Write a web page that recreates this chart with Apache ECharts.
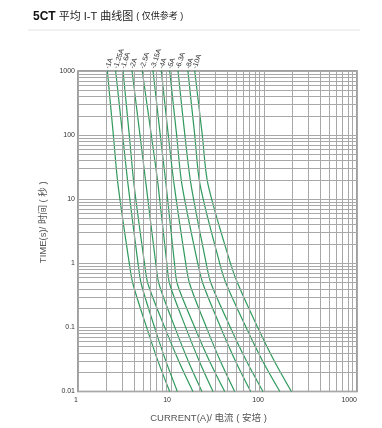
<!DOCTYPE html>
<html><head><meta charset="utf-8">
<script src="https://cdn.jsdelivr.net/npm/echarts@6/dist/echarts.min.js"></script>
<style>html,body{margin:0;padding:0;background:#fff}#c{width:382px;height:428px}</style>
</head><body><div id="c"></div>
<script>
// Fuse ratings (curve labels)
const ratings = ['1A','1.25A','1.6A','2A','2.5A','3.15A','4A','5A','6.3A','8A','10A'];
// Time points (s) at which the curves were read
const times = [1000, 100, 17, 1, 0.475, 0.1, 0.03, 0.01];
// Current (A) of each curve at the above times
const cur1A    = [2.07, 2.40, 2.69, 3.56, 3.90, 5.47, 7.23, 9.68];
const cur1_25A = [2.54, 3.02, 3.45, 4.42, 4.79, 6.66, 8.79, 11.7];
const cur1_6A  = [3.05, 3.56, 4.00, 5.19, 5.66, 8.56, 12.1, 17.2];
const cur2A    = [3.81, 4.64, 5.39, 6.86, 7.43, 11.0, 15.3, 21.5];
const cur2_5A  = [4.91, 6.14, 7.25, 9.01, 9.68, 14.4, 20.1, 28.3];
const cur3_15A = [6.41, 7.67, 8.84, 10.9, 11.7, 18.0, 25.9, 37.8];
const cur4A    = [7.87, 9.35, 10.8, 14.4, 15.9, 24.0, 33.9, 48.4];
const cur5A    = [9.68, 11.5, 13.1, 19.4, 22.1, 34.2, 49.3, 71.9];
const cur6_3A  = [11.9, 14.1, 16.4, 23.9, 27.1, 43.5, 64.8, 97.5];
const cur8A    = [15.2, 18.0, 20.5, 33.4, 39.3, 64.2, 96.6, 148];
const cur10A   = [18.0, 21.7, 25.0, 43.6, 52.5, 85.6, 129, 197];
const curves = [cur1A, cur1_25A, cur1_6A, cur2A, cur2_5A, cur3_15A, cur4A, cur5A, cur6_3A, cur8A, cur10A];
// Axis tick labels
const xTicks = [1, 10, 100, 1000];
const yTicks = [0.01, 0.1, 1, 10, 100, 1000];

const FONT = "'Liberation Sans','Noto Sans CJK SC',sans-serif";
const GRID_COLOR = '#a8a8a8';
const GREEN = '#2f9a5c';

// minor log grid values (2..9 in each decade)
const xMinor = [], yMinor = [];
for (let d = 1; d < 1000; d *= 10) for (let k = 2; k <= 9; k++) xMinor.push(+(k * d).toPrecision(3));
for (let d = 0.01; d < 1000; d *= 10) for (let k = 2; k <= 9; k++) yMinor.push(+(k * d).toPrecision(3));

const series = [{
  type: 'line', data: [], silent: true, z: 1,
  markLine: {
    silent: true, symbol: 'none', animation: false,
    label: {show: false},
    lineStyle: {color: GRID_COLOR, width: 1, type: 'solid'},
    emphasis: {disabled: true},
    data: xMinor.map(v => ({xAxis: v})).concat(yMinor.map(v => ({yAxis: v})))
  }
}];
curves.forEach((c, i) => {
  series.push({
    type: 'line', z: 3, smooth: 0.3, symbol: 'circle', symbolSize: 1,
    showSymbol: true, silent: true, animation: false, clip: false,
    lineStyle: {color: GREEN, width: 1.2},
    itemStyle: {color: GREEN},
    data: times.map((t, j) => {
      if (j !== 0) return {value: [c[j], t], symbol: 'none'};
      return {
        value: [c[j], t],
        label: {
          show: true, formatter: '-' + ratings[i], position: 'top', distance: 2,
          rotate: 72, align: 'left', verticalAlign: 'middle',
          fontSize: 7, color: '#333', fontFamily: FONT
        }
      };
    })
  });
});

const chart = echarts.init(document.getElementById('c'), null, {renderer: 'canvas'});
chart.setOption({
  backgroundColor: '#fff',
  animation: false,
  textStyle: {fontFamily: FONT},
  title: {
    text: '{b|5CT} 平均 I-T 曲线图 {s|( 仅供参考 )}',
    left: 28, top: 6,
    textStyle: {
      fontSize: 11, color: '#222', fontWeight: 'normal', fontFamily: FONT,
      rich: {b: {fontSize: 12, fontWeight: 'bold', color: '#111', fontFamily: FONT},
             s: {fontSize: 9, color: '#222', fontFamily: FONT}}
    }
  },
  graphic: [{type: 'line', shape: {x1: 28, y1: 30, x2: 360, y2: 30},
             style: {stroke: '#e4e4e4', lineWidth: 1}, silent: true}],
  grid: {left: 78, right: 25, top: 71, bottom: 35, show: true,
         borderColor: '#808080', borderWidth: 1.5},
  xAxis: {
    type: 'log', logBase: 10, min: 1, max: 1000,
    name: 'CURRENT(A)/ 电流 ( 安培 )', nameLocation: 'middle', nameGap: 22,
    nameTextStyle: {fontSize: 9.5, color: '#555', padding: [0, 18, 0, 0], fontFamily: FONT},
    axisLine: {show: false}, axisTick: {show: false},
    axisLabel: {fontSize: 7, color: '#333', margin: 5, align: 'right',
                formatter: v => xTicks.includes(+v.toPrecision(3)) ? String(+v.toPrecision(3)) : ''},
    splitLine: {show: true, lineStyle: {color: GRID_COLOR, width: 1}}
  },
  yAxis: {
    type: 'log', logBase: 10, min: 0.01, max: 1000,
    name: 'TIME(s)/ 时间 ( 秒 )', nameLocation: 'middle', nameGap: 27, nameRotate: 90,
    nameTextStyle: {fontSize: 9.5, color: '#555', padding: [0, 0, 0, 18], fontFamily: FONT},
    axisLine: {show: false}, axisTick: {show: false},
    axisLabel: {fontSize: 7, color: '#333', margin: 3,
                formatter: v => { const r = +v.toPrecision(3); return yTicks.includes(r) ? String(r) : ''; }},
    splitLine: {show: true, lineStyle: {color: GRID_COLOR, width: 1}}
  },
  series: series
});
</script></body></html>
